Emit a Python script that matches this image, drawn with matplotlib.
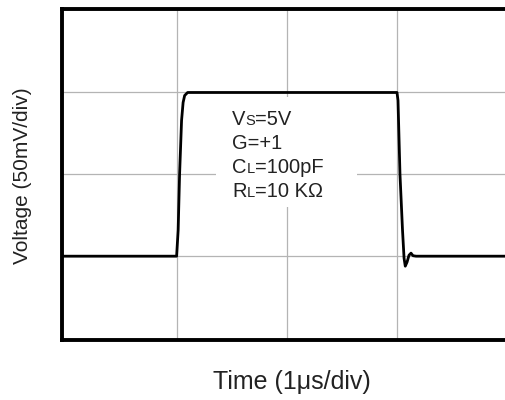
import matplotlib
matplotlib.use("Agg")
import matplotlib.pyplot as plt
from matplotlib.patches import Rectangle
from matplotlib.offsetbox import TextArea, HPacker, VPacker, AnnotationBbox

# large-signal step response (x: divisions, y: divisions)
time_div = [-0.04, 1.0, 1.014, 1.027, 1.045, 1.059, 1.073, 1.10,
            3.0, 3.009, 3.027, 3.05, 3.064, 3.075, 3.091, 3.109, 3.127, 3.145, 3.173, 4.0]
volt_div = [1.0, 1.0, 1.317, 2.0, 2.659, 2.878, 2.963, 3.0,
            3.0, 2.902, 2.0, 1.317, 0.976, 0.878, 0.927, 1.012, 1.037, 1.006, 1.0, 1.0]

conditions = [("V", "S", "=5V"), ("G=+1", "", ""), ("C", "L", "=100pF"), ("R", "L", "=10 K\u03a9")]
x_label = "Time (1\u03bcs/div)"
y_label = "Voltage (50mV/div)"

FONT = "Liberation Sans"
INK = "#222222"

fig = plt.figure(figsize=(5.05, 4.0), dpi=100)
ax = fig.add_axes([62 / 505, 60 / 400, 1 - 62 / 505, 331 / 400])
ax.set_xlim(-0.04, 3.98)
ax.set_ylim(-0.024, 4.02)
ax.set_xticks([1, 2, 3])
ax.set_yticks([1, 2, 3])
ax.tick_params(length=0, labelbottom=False, labelleft=False)
ax.grid(True, color="#b4b4b4", lw=0.9, zorder=0)
ax.set_axisbelow(True)
for side in ("left", "top", "bottom"):
    ax.spines[side].set_linewidth(2.8)
    ax.spines[side].set_color("black")
ax.spines["right"].set_visible(False)

# white box behind the condition text hides the grid there
ax.add_patch(Rectangle((1.355, 1.6), 1.28, 1.35, facecolor="white", edgecolor="none", zorder=1))

ax.plot(time_div, volt_div, color="black", lw=2.0, zorder=3, solid_joinstyle="round")

lines = []
for big, small, rest in conditions:
    parts = [TextArea(big, textprops=dict(fontsize=14.5, family=FONT, color=INK))]
    if small:
        parts.append(TextArea(small, textprops=dict(fontsize=10.5, family=FONT, color=INK)))
    if rest:
        parts.append(TextArea(rest, textprops=dict(fontsize=14.5, family=FONT, color=INK)))
    lines.append(HPacker(children=parts, align="baseline", pad=0, sep=0))
block = VPacker(children=lines, align="left", pad=0, sep=3.5)
ab = AnnotationBbox(block, (1.505, 2.78), box_alignment=(0, 1), frameon=False, zorder=4)
ax.add_artist(ab)

fig.text(292 / 505, 1 - 382 / 400, x_label, ha="center", va="center",
         fontsize=18, family=FONT, color=INK)
fig.text(23 / 505, 1 - 176 / 400, y_label, ha="center", va="center", rotation=90,
         fontsize=15, family=FONT, color=INK)

fig.savefig("out.png", dpi=100)
